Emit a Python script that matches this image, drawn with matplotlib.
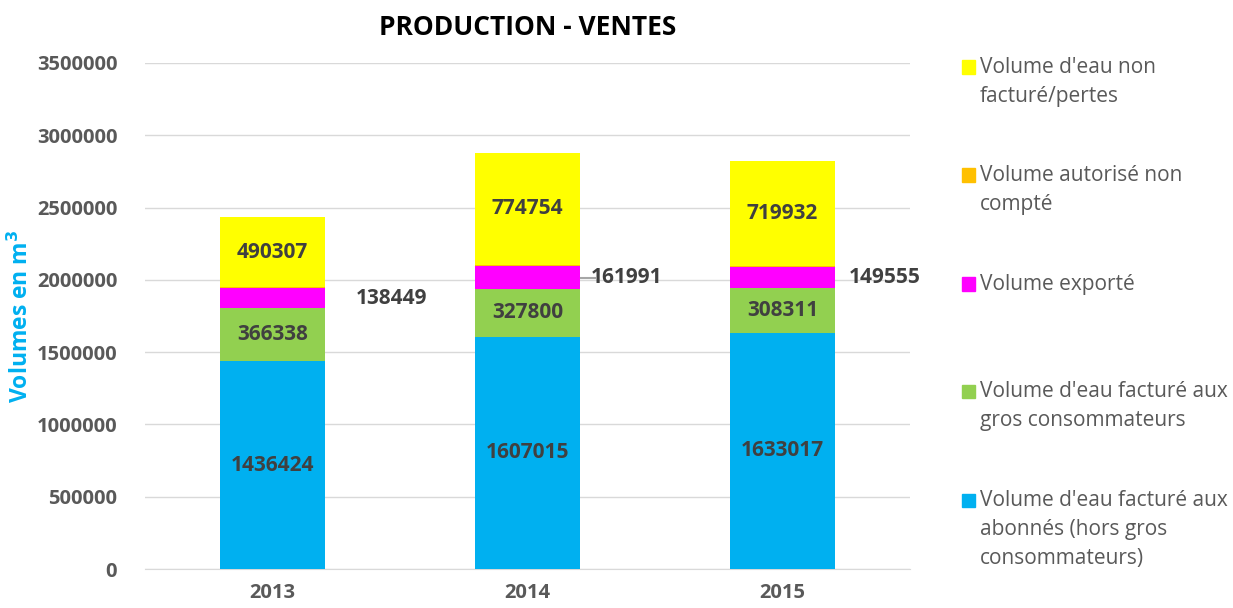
import numpy as np
import matplotlib.pyplot as plt
from matplotlib.patches import Rectangle

years = ['2013', '2014', '2015']
abonnes = [1436424, 1607015, 1633017]
gros = [366338, 327800, 308311]
exporte = [138449, 161991, 149555]
autorise = [6000, 8000, 8000]
pertes = [490307, 774754, 719932]

labels = ["Volume d'eau non\nfacturé/pertes",
          "Volume autorisé non\ncompté",
          "Volume exporté",
          "Volume d'eau facturé aux\ngros consommateurs",
          "Volume d'eau facturé aux\nabonnés (hors gros\nconsommateurs)"]
colors = ['#FFFF00', '#FFC000', '#FF00FF', '#92D050', '#00B0F0']

plt.rcParams['font.family'] = ['Open Sans', 'DejaVu Sans']

fig = plt.figure(figsize=(12.33, 6.08), dpi=100)
ax = fig.add_axes([0.1176, 0.0641, 0.6204, 0.8323])

x = np.arange(len(years))
w = 0.41
series = [abonnes, gros, exporte, autorise, pertes]
cols = colors[::-1]
bottom = np.zeros(len(years))
bars = []
for vals, c in zip(series, cols):
    ax.bar(x, vals, w, bottom=bottom, color=c, zorder=3)
    bars.append((vals, bottom.copy()))
    bottom += np.array(vals)

txt = '#404040'
# labels inside bars
for idx in [0, 1, 4]:
    vals, bot = bars[idx]
    for i in range(len(years)):
        ax.text(x[i], bot[i] + vals[i] / 2, str(vals[i]), ha='center', va='center',
                fontsize=15, fontweight='bold', color=txt, zorder=4)

# exported labels outside
vals, bot = bars[2]
offs = [0.465, 0.39, 0.40]
for i in range(len(years)):
    yc = bot[i] + vals[i] / 2
    ax.text(x[i] + offs[i], yc, str(vals[i]), ha='center', va='center',
            fontsize=15, fontweight='bold', color=txt, zorder=4)
yc = bars[2][1][1] + exporte[1] / 2
ax.plot([x[1] + 0.21, x[1] + 0.265], [yc, yc], color='#A6A6A6', lw=1.5, zorder=4)

ax.set_xlim(-0.5, 2.5)
ax.set_ylim(0, 3500000)
ax.set_yticks(np.arange(0, 3500001, 500000))
ax.set_yticklabels([str(v) for v in range(0, 3500001, 500000)])
ax.set_xticks(x)
ax.set_xticklabels(years)
ax.grid(axis='y', color='#D9D9D9', lw=1, zorder=0)
for s in ['left', 'right', 'top']:
    ax.spines[s].set_visible(False)
ax.spines['bottom'].set_color('#D9D9D9')
ax.tick_params(axis='both', length=0, labelsize=14.5, labelcolor='#595959')
ax.tick_params(axis='y', pad=20)
ax.tick_params(axis='x', pad=10)
for t in ax.get_xticklabels() + ax.get_yticklabels():
    t.set_fontweight('bold')

ax.set_ylabel(r'Volumes en m$^{\mathbf{3}}$', fontsize=16.5, fontweight='bold', color='#00B0F0')
ax.yaxis.set_label_coords(-0.145, 0.5)
ax.set_title('PRODUCTION - VENTES', fontsize=19, fontweight='bold', color='black', pad=20)

# legend
W, H = 1233, 608
ys = [67, 175, 284, 391, 500]
for lab, c, yy in zip(labels, colors, ys):
    fig.patches.append(Rectangle((962 / W, (H - yy - 6.5) / H), 13 / W, 13 / H,
                                 transform=fig.transFigure, color=c))
    fig.text(980 / W, (H - yy + 10) / H, lab, ha='left', va='top', fontsize=15,
             color='#595959', linespacing=1.5)

fig.savefig('out.png', dpi=100)
